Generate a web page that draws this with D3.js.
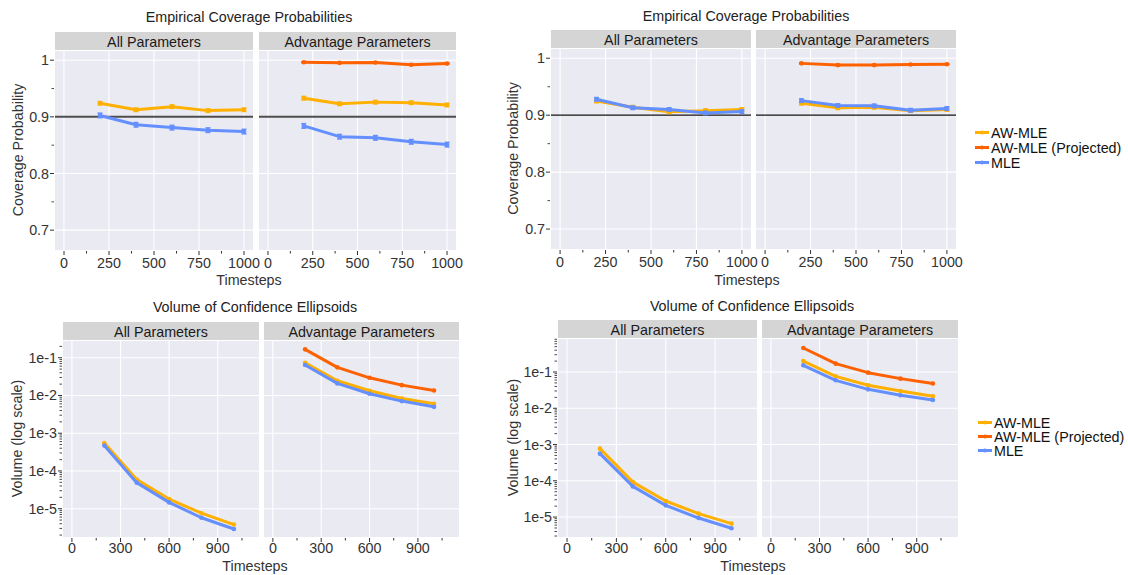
<!DOCTYPE html>
<html><head><meta charset="utf-8">
<script src="https://cdn.jsdelivr.net/npm/d3@7"></script>
<style>body{margin:0;background:#fff;} text{font-family:"Liberation Sans",Arial,sans-serif;}</style>
</head><body>
<svg id="c" width="1128" height="575"></svg>
<script>
// ---------- DATA ----------
const timesteps = [200, 400, 600, 800, 1000];
const seriesNames = ["AW-MLE", "AW-MLE (Projected)", "MLE"];
const seriesColors = ["#FFB000", "#FE6100", "#648FFF"];
const facetNames = ["All Parameters", "Advantage Parameters"];

// Coverage (left)
const covL_all_awmle = [0.924, 0.9125, 0.918, 0.911, 0.9125];
const covL_all_mle   = [0.9025, 0.886, 0.881, 0.8765, 0.874];
const covL_adv_proj  = [0.9965, 0.9953, 0.996, 0.992, 0.994];
const covL_adv_awmle = [0.933, 0.923, 0.926, 0.925, 0.921];
const covL_adv_mle   = [0.884, 0.865, 0.863, 0.856, 0.851];
const covL_err_awmle = [0.003, 0.003, 0.003, 0.003, 0.003];
const covL_err_proj  = [0.001, 0.001, 0.001, 0.001, 0.001];
const covL_err_mle   = [0.004, 0.004, 0.004, 0.004, 0.004];

// Coverage (right)
const covR_all_awmle = [0.925, 0.914, 0.906, 0.908, 0.910];
const covR_all_mle   = [0.928, 0.913, 0.910, 0.904, 0.9065];
const covR_adv_proj  = [0.991, 0.988, 0.988, 0.989, 0.9895];
const covR_adv_awmle = [0.921, 0.913, 0.914, 0.908, 0.910];
const covR_adv_mle   = [0.9256, 0.917, 0.9164, 0.9087, 0.9117];
const covR_err_awmle = [0.003, 0.003, 0.003, 0.003, 0.003];
const covR_err_proj  = [0.001, 0.001, 0.001, 0.001, 0.001];
const covR_err_mle   = [0.003, 0.003, 0.003, 0.003, 0.003];

// Volume (left)
const volL_all_awmle = [5.5e-4, 5.9e-5, 1.8e-5, 7.6e-6, 3.8e-6];
const volL_all_mle   = [4.7e-4, 4.9e-5, 1.47e-5, 5.75e-6, 2.9e-6];
const volL_adv_proj  = [0.167, 0.0556, 0.0294, 0.0188, 0.0136];
const volL_adv_awmle = [0.0736, 0.0245, 0.0133, 0.0083, 0.006];
const volL_adv_mle   = [0.064, 0.0209, 0.0111, 0.0071, 0.005];

// Volume (right)
const volR_all_awmle = [7.7e-4, 9.2e-5, 2.77e-5, 1.24e-5, 6.6e-6];
const volR_all_mle   = [5.6e-4, 7.0e-5, 2.1e-5, 9.4e-6, 4.9e-6];
const volR_adv_proj  = [0.459, 0.17, 0.096, 0.0657, 0.048];
const volR_adv_awmle = [0.2, 0.076, 0.043, 0.030, 0.0214];
const volR_adv_mle   = [0.153, 0.059, 0.0333, 0.0228, 0.0169];

const covXTicks = [0, 250, 500, 750, 1000];
const covXMinor = [125, 375, 625, 875];
const covYTicks = [0.7, 0.8, 0.9, 1];
const covYMinor = [0.75, 0.85, 0.95];
const volXTicks = [0, 300, 600, 900];
const volXMinor = [150, 450, 750, 1050];
const volYTicks = [1e-5, 1e-4, 1e-3, 1e-2, 1e-1];
const volYLabels = ["1e-5", "1e-4", "1e-3", "1e-2", "1e-1"];
const targetCoverage = 0.9;

// ---------- LAYOUT ----------
const svg = d3.select("#c");
const TXT = "#333";
const FS = 14.3;

function mk(values, errs){ return timesteps.map((t,i)=>({t, v:values[i], e: errs?errs[i]:0})); }

const panels = [
 { title:"Empirical Coverage Probabilities", titleX:249, titleY:17,
   stripTop:32, stripBot:50, plotBot:250, facetX:[[55,253],[259,456]],
   xDomain:[-50,1050], xTicks:covXTicks, xMinor:covXMinor,
   yLog:false, yDomain:[0.665,1.018], yTicks:covYTicks, yMinor:covYMinor, yFmt:d3.format("~g"),
   yLabel:"Coverage Probability", yLabelX:18, xLabelX:249, xLabelY:280, tickY:263,
   ref:{color:"#4d4d4d", w:2},
   facets:[
     [mk(covL_all_awmle, covL_err_awmle), null, mk(covL_all_mle, covL_err_mle)],
     [mk(covL_adv_awmle, covL_err_awmle), mk(covL_adv_proj, covL_err_proj), mk(covL_adv_mle, covL_err_mle)]
   ], errBars:true },
 { title:"Empirical Coverage Probabilities", titleX:746, titleY:16,
   stripTop:30, stripBot:48, plotBot:249, facetX:[[551,751],[756,956]],
   xDomain:[-50,1050], xTicks:covXTicks, xMinor:covXMinor,
   yLog:false, yDomain:[0.665,1.018], yTicks:covYTicks, yMinor:covYMinor, yFmt:d3.format("~g"),
   yLabel:"Coverage Probability", yLabelX:513, xLabelX:747, xLabelY:280, tickY:262,
   ref:{color:"#111", w:1.3},
   facets:[
     [mk(covR_all_awmle, covR_err_awmle), null, mk(covR_all_mle, covR_err_mle)],
     [mk(covR_adv_awmle, covR_err_awmle), mk(covR_adv_proj, covR_err_proj), mk(covR_adv_mle, covR_err_mle)]
   ], errBars:true },
 { title:"Volume of Confidence Ellipsoids", titleX:255, titleY:307,
   stripTop:322, stripBot:340, plotBot:537, facetX:[[63,259],[264,459]],
   xDomain:[-55,1155], xTicks:volXTicks, xMinor:volXMinor,
   yLog:true, yDomain:[Math.pow(10,-5.75), Math.pow(10,-0.53)], yTicks:volYTicks, yLabels:volYLabels,
   yLabel:"Volume (log scale)", yLabelX:17, xLabelX:255, xLabelY:566, tickY:548,
   ref:null,
   facets:[
     [mk(volL_all_awmle), null, mk(volL_all_mle)],
     [mk(volL_adv_awmle), mk(volL_adv_proj), mk(volL_adv_mle)]
   ], errBars:false },
 { title:"Volume of Confidence Ellipsoids", titleX:752, titleY:306,
   stripTop:320, stripBot:338, plotBot:537, facetX:[[558,757],[762,958]],
   xDomain:[-55,1155], xTicks:volXTicks, xMinor:volXMinor,
   yLog:true, yDomain:[Math.pow(10,-5.55), Math.pow(10,-0.062)], yTicks:volYTicks, yLabels:volYLabels,
   yLabel:"Volume (log scale)", yLabelX:513, xLabelX:753, xLabelY:566, tickY:548,
   ref:null,
   facets:[
     [mk(volR_all_awmle), null, mk(volR_all_mle)],
     [mk(volR_adv_awmle), mk(volR_adv_proj), mk(volR_adv_mle)]
   ], errBars:false }
];

function logMinor(domain){
  const out=[];
  const lo=Math.floor(Math.log10(domain[0])), hi=Math.ceil(Math.log10(domain[1]));
  for(let k=lo;k<=hi;k++) for(let m=2;m<=9;m++){ const v=m*Math.pow(10,k); if(v>=domain[0]&&v<=domain[1]) out.push(v); }
  return out;
}

panels.forEach(p=>{
  const g = svg.append("g");
  g.append("text").attr("x",p.titleX).attr("y",p.titleY).attr("text-anchor","middle")
    .attr("dominant-baseline","central").attr("font-size",FS).attr("fill","#222").text(p.title);

  const y = (p.yLog? d3.scaleLog(): d3.scaleLinear()).domain(p.yDomain).range([p.plotBot, p.stripBot]);
  const yMinor = p.yLog ? logMinor(p.yDomain) : p.yMinor;

  p.facetX.forEach((fx, fi)=>{
    const x = d3.scaleLinear().domain(p.xDomain).range(fx);
    const fg = g.append("g");
    fg.append("rect").attr("x",fx[0]).attr("y",p.stripTop).attr("width",fx[1]-fx[0]).attr("height",p.stripBot-p.stripTop).attr("fill","#D5D5D5");
    fg.append("text").attr("x",(fx[0]+fx[1])/2).attr("y",(p.stripTop+p.stripBot)/2+0.5).attr("text-anchor","middle")
      .attr("dominant-baseline","central").attr("font-size",FS).attr("fill","#1a1a1a").text(facetNames[fi]);
    fg.append("rect").attr("x",fx[0]).attr("y",p.stripBot+1).attr("width",fx[1]-fx[0]).attr("height",p.plotBot-p.stripBot-1).attr("fill","#EAEAF2");
    fg.selectAll(".gx").data(p.xTicks).join("line").attr("x1",d=>x(d)).attr("x2",d=>x(d)).attr("y1",p.stripBot+1).attr("y2",p.plotBot)
      .attr("stroke","#fff").attr("stroke-width",1.1);
    fg.selectAll(".gy").data(p.yTicks).join("line").attr("x1",fx[0]).attr("x2",fx[1]).attr("y1",d=>y(d)).attr("y2",d=>y(d))
      .attr("stroke","#fff").attr("stroke-width",1.1);
    fg.selectAll(".xt").data(p.xTicks).join("line").attr("x1",d=>x(d)).attr("x2",d=>x(d)).attr("y1",p.plotBot+1).attr("y2",p.plotBot+5).attr("stroke",TXT).attr("stroke-width",1);
    fg.selectAll(".xm").data(p.xMinor).join("line").attr("x1",d=>x(d)).attr("x2",d=>x(d)).attr("y1",p.plotBot+1).attr("y2",p.plotBot+3.5).attr("stroke",TXT).attr("stroke-width",1);
    fg.selectAll(".xl").data(p.xTicks).join("text").attr("x",d=>x(d)).attr("y",p.tickY).attr("text-anchor","middle")
      .attr("dominant-baseline","central").attr("font-size",FS).attr("fill",TXT).text(d=>d);
    if(p.ref){
      fg.append("line").attr("x1",fx[0]).attr("x2",fx[1]).attr("y1",y(targetCoverage)).attr("y2",y(targetCoverage))
        .attr("stroke",p.ref.color).attr("stroke-width",p.ref.w);
    }
    const line = d3.line().x(d=>x(d.t)).y(d=>y(d.v));
    p.facets[fi].forEach((s, si)=>{
      if(!s) return;
      const c = seriesColors[si];
      fg.append("path").datum(s).attr("d",line).attr("fill","none").attr("stroke",c).attr("stroke-width",3).attr("stroke-linejoin","round");
      if(p.errBars){
        s.forEach(d=>{
          const y1=y(d.v-d.e), y2=y(d.v+d.e), xx=x(d.t);
          fg.append("line").attr("x1",xx).attr("x2",xx).attr("y1",y1).attr("y2",y2).attr("stroke",c).attr("stroke-width",2);
          fg.append("line").attr("x1",xx-2.5).attr("x2",xx+2.5).attr("y1",y1).attr("y2",y1).attr("stroke",c).attr("stroke-width",1.5);
          fg.append("line").attr("x1",xx-2.5).attr("x2",xx+2.5).attr("y1",y2).attr("y2",y2).attr("stroke",c).attr("stroke-width",1.5);
        });
      }
      fg.selectAll(null).data(s).join("circle").attr("cx",d=>x(d.t)).attr("cy",d=>y(d.v)).attr("r",2.3).attr("fill",c);
    });
  });

  const x0 = p.facetX[0][0];
  g.selectAll(".yt").data(p.yTicks).join("line").attr("x1",x0-5).attr("x2",x0-1).attr("y1",d=>y(d)).attr("y2",d=>y(d)).attr("stroke",TXT);
  g.selectAll(".ym").data(yMinor).join("line").attr("x1",x0-3.5).attr("x2",x0-1).attr("y1",d=>y(d)).attr("y2",d=>y(d)).attr("stroke",TXT).attr("stroke-width",0.9);
  g.selectAll(".yl").data(p.yTicks).join("text").attr("x",x0-6).attr("y",d=>y(d)).attr("text-anchor","end")
    .attr("dominant-baseline","central").attr("font-size",FS).attr("fill",TXT)
    .text((d,i)=> p.yLog ? p.yLabels[i] : p.yFmt(d));
  g.append("text").attr("transform",`translate(${p.yLabelX},${(p.stripBot+p.plotBot)/2}) rotate(-90)`).attr("text-anchor","middle")
    .attr("dominant-baseline","central").attr("font-size",FS).attr("fill",TXT).text(p.yLabel);
  g.append("text").attr("x",p.xLabelX).attr("y",p.xLabelY).attr("text-anchor","middle")
    .attr("dominant-baseline","central").attr("font-size",FS).attr("fill",TXT).text("Timesteps");
});

function legend(x0, ys){
  const lg = svg.append("g");
  seriesNames.forEach((n,i)=>{
    lg.append("line").attr("x1",x0).attr("x2",x0+14).attr("y1",ys[i]).attr("y2",ys[i]).attr("stroke",seriesColors[i]).attr("stroke-width",3);
    lg.append("circle").attr("cx",x0+7).attr("cy",ys[i]).attr("r",2).attr("fill",seriesColors[i]);
    lg.append("text").attr("x",x0+16).attr("y",ys[i]).attr("dominant-baseline","central").attr("font-size",FS).attr("fill","#111").text(n);
  });
}
legend(975, [132.5, 147.5, 162.5]);
legend(978, [422.5, 436.5, 450.5]);
</script>
</body></html>
